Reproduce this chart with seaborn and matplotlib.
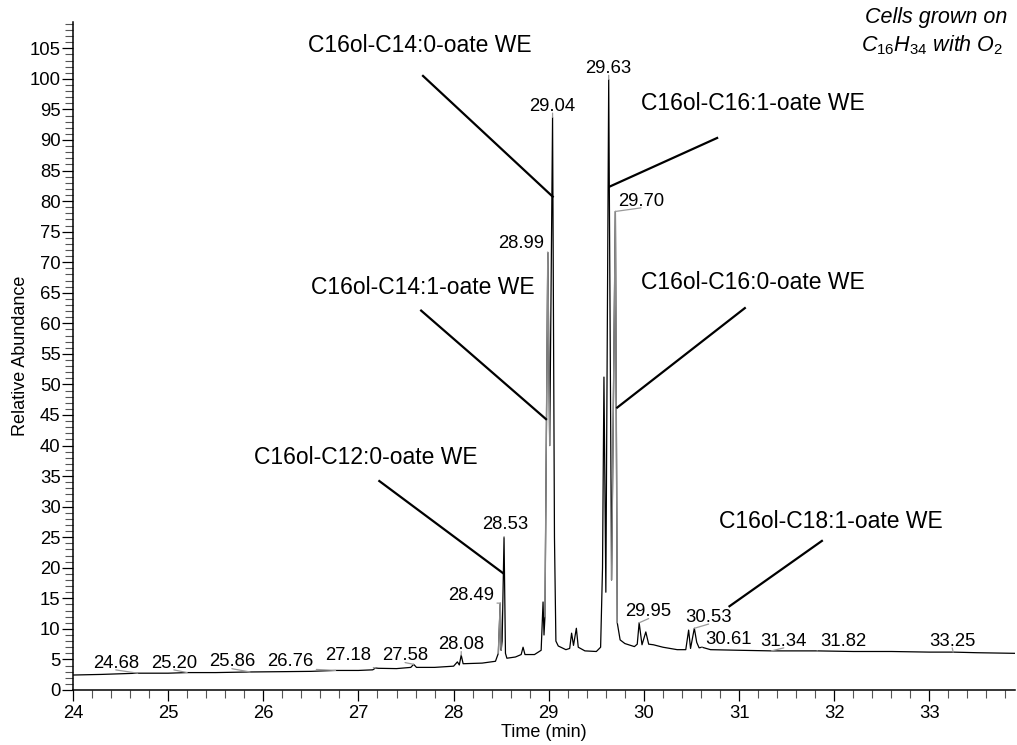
import matplotlib
matplotlib.use("Agg")
import matplotlib.pyplot as plt
from matplotlib.ticker import MultipleLocator
import numpy as np
import pandas as pd
import seaborn as sns

# ---- chromatogram trace (retention time in min, relative abundance in %) ----
trace_time = [
    24.00, 24.30, 24.68, 25.00, 25.20, 25.50, 25.86, 26.20, 26.50, 26.76,
    27.00, 27.15, 27.18, 27.21, 27.40, 27.55, 27.58, 27.61, 27.80, 28.00,
    28.04, 28.06, 28.08, 28.10, 28.30, 28.44, 28.47, 28.49, 28.50, 28.51,
    28.53, 28.545, 28.56, 28.65, 28.71, 28.73, 28.75, 28.85, 28.92, 28.94,
    28.95, 28.96, 28.99, 29.01, 29.04, 29.06, 29.075, 29.10, 29.18, 29.22,
    29.24, 29.26, 29.29, 29.31, 29.38, 29.50, 29.545, 29.565, 29.58, 29.60,
    29.63, 29.66, 29.70, 29.72, 29.75, 29.80, 29.86, 29.90, 29.93, 29.95,
    29.98, 30.02, 30.05, 30.10, 30.20, 30.35, 30.44, 30.47, 30.49, 30.53,
    30.555, 30.58, 30.61, 30.70, 31.00, 31.34, 31.60, 31.82, 32.20, 32.60,
    33.00, 33.25, 33.50, 33.90,
]
trace_abund = [
    2.45, 2.55, 2.75, 2.75, 2.85, 2.85, 2.95, 3.00, 3.05, 3.20,
    3.20, 3.30, 3.60, 3.55, 3.50, 3.70, 4.20, 3.70, 3.70, 3.90,
    4.60, 4.10, 5.70, 4.30, 4.40, 4.70, 6.00, 14.2, 6.50, 8.00,
    25.0, 6.00, 5.20, 5.40, 5.80, 7.00, 5.80, 5.80, 6.50, 14.4,
    9.00, 12.0, 71.6, 40.0, 93.7, 25.0, 8.00, 7.20, 6.60, 6.80,
    9.30, 7.30, 10.1, 7.00, 6.40, 6.30, 7.00, 20.0, 51.2, 16.0,
    99.9, 18.0, 78.3, 11.0, 8.20, 7.60, 7.30, 7.10, 7.50, 11.0,
    7.40, 9.50, 7.50, 7.40, 7.00, 6.60, 6.60, 9.80, 6.80, 10.1,
    7.80, 6.90, 7.00, 6.60, 6.50, 6.40, 6.40, 6.40, 6.30, 6.30,
    6.20, 6.20, 6.10, 6.00,
]

# ---- labelled retention times ----
peak_times = [24.68, 25.20, 25.86, 26.76, 27.18, 27.58, 28.08, 28.49, 28.53,
              28.99, 29.04, 29.63, 29.70, 29.95, 30.53, 30.61, 31.34, 31.82, 33.25]
# label text anchor (time, abundance) for each retention-time label
peak_label_x = [24.45, 25.06, 25.67, 26.28, 26.89, 27.49, 28.08, 28.18, 28.54,
                28.71, 29.04, 29.63, 29.97, 30.05, 30.68, 30.89, 31.47, 32.10, 33.24]
peak_label_y = [4.4, 4.4, 4.6, 4.7, 5.6, 5.6, 7.4, 15.5, 27.0,
                73.1, 95.5, 101.7, 80.0, 12.8, 11.9, 8.2, 8.0, 8.0, 8.0]

# ---- compound assignments ----
compound_names = ["C16ol-C14:0-oate WE", "C16ol-C16:1-oate WE", "C16ol-C14:1-oate WE",
                  "C16ol-C16:0-oate WE", "C16ol-C12:0-oate WE", "C16ol-C18:1-oate WE"]
compound_text_x = [27.65, 31.15, 27.68, 31.15, 27.08, 31.96]
compound_text_y = [105.5, 96.0, 65.9, 66.7, 38.1, 27.6]
compound_line_start = [(27.67, 100.6), (30.78, 90.4), (27.65, 62.2),
                       (31.07, 62.6), (27.21, 34.3), (31.88, 24.5)]
compound_line_end = [(29.05, 80.6), (29.63, 82.3), (28.98, 44.2),
                     (29.71, 46.1), (28.53, 19.0), (30.89, 13.6)]

x_ticks = list(range(24, 34))
y_ticks = list(range(0, 110, 5))

sns.set_theme(style="ticks")
plt.rcParams["font.family"] = ["Liberation Sans", "DejaVu Sans"]
plt.rcParams["mathtext.fontset"] = "custom"
plt.rcParams["mathtext.it"] = "Liberation Sans:italic"
plt.rcParams["mathtext.rm"] = "Liberation Sans"
for key in ("text.color", "axes.labelcolor", "xtick.color", "ytick.color",
            "xtick.labelcolor", "ytick.labelcolor"):
    plt.rcParams[key] = "black"

fig = plt.figure(figsize=(10.17, 7.45), dpi=100)
W, H = 1017, 745
ax = fig.add_axes([73 / W, (H - 690) / H, (1015 - 73) / W, (690 - 22) / H])

df = pd.DataFrame({"time": trace_time, "abund": trace_abund})
sns.lineplot(data=df, x="time", y="abund", ax=ax, color="black", lw=0.9,
             sort=False, estimator=None)

# grey shading of the integrated peak tops
for lo, hi in [(28.47, 28.50), (28.96, 29.01), (29.66, 29.72)]:
    seg = df[(df.time >= lo) & (df.time <= hi)]
    ax.plot(seg.time, seg.abund, color="#8a8a8a", lw=1.0)

# retention-time labels with grey leaders
apex = dict(zip(trace_time, trace_abund))
for t, lx, ly in zip(peak_times, peak_label_x, peak_label_y):
    ax.annotate(f"{t:.2f}", xy=(t, apex[t]), xytext=(lx, ly),
                ha="center", va="center", fontsize=13.3, color="black",
                arrowprops=dict(arrowstyle="-", color="#9a9a9a", lw=0.9,
                                shrinkA=0, shrinkB=0, relpos=(0.5, 0.1)))

# compound annotations
for name, tx, ty, s, e in zip(compound_names, compound_text_x, compound_text_y,
                              compound_line_start, compound_line_end):
    ax.text(tx, ty, name, ha="center", va="center", fontsize=16.5, color="black")
    ax.plot([s[0], e[0]], [s[1], e[1]], color="black", lw=1.6,
            solid_capstyle="butt")

fig.text(1007 / W, 1 - 18 / H, "Cells grown on", ha="right", va="center",
         fontsize=15.5, style="italic", color="black")
fig.text(1003 / W, 1 - 45 / H, r"$\mathit{C_{16}H_{34}}$ with $\mathit{O_2}$",
         ha="right", va="center", fontsize=15.5, style="italic", color="black")

ax.set_xlim(24, 33.9)
ax.set_ylim(0, 109.3)
ax.set_xticks(x_ticks)
ax.set_yticks(y_ticks)
ax.xaxis.set_minor_locator(MultipleLocator(0.2))
ax.yaxis.set_minor_locator(MultipleLocator(1))
ax.tick_params(axis="both", which="major", direction="out", length=8,
               width=0.9, color="black", labelsize=13.3, labelcolor="black")
ax.tick_params(axis="y", which="major", pad=1)
ax.tick_params(axis="x", which="major", pad=2.5)
ax.tick_params(axis="both", which="minor", direction="out", length=5.5,
               width=0.8, color="#555555")
ax.set_xlabel("Time (min)", fontsize=13, color="black")
ax.set_ylabel("Relative Abundance", fontsize=13, color="black")
ax.xaxis.set_label_coords(0.5, -0.051)
ax.yaxis.set_label_coords(-0.047, 0.5)
sns.despine(ax=ax)
for sp in ("left", "bottom"):
    ax.spines[sp].set_linewidth(1.1)
    ax.spines[sp].set_color("black")
ax.grid(False)

fig.savefig("out.png", dpi=100)
